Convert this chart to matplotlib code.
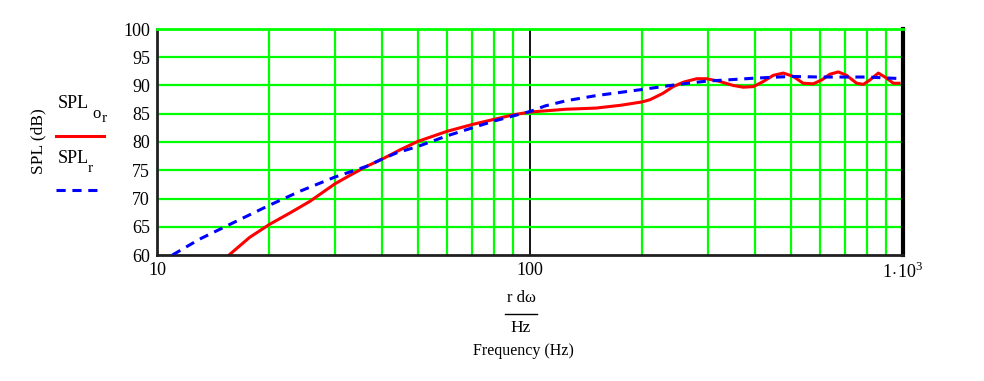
#!/usr/bin/env python

import numpy as np
import matplotlib.pyplot as plt
from matplotlib.lines import Line2D

# measured response (red, solid)
freq_meas = [15.6, 17.7, 20, 22.8, 25.7, 30, 32.9, 36.5, 40.5, 44.8, 50, 60, 70,
             80, 90, 100, 125, 150, 175, 200, 210, 227, 242, 258, 280, 298, 323,
             351, 373, 397, 422, 449, 478, 508, 540, 575, 606, 637, 671, 706,
             751, 783, 816, 859, 904, 942, 976]
spl_meas = [60.0, 63.1, 65.4, 67.5, 69.5, 72.6, 74.1, 75.7, 77.1, 78.6, 80.1, 81.9,
            83.1, 84.0, 84.8, 85.3, 85.8, 86.0, 86.5, 87.1, 87.5, 88.6, 89.8,
            90.6, 91.2, 91.2, 90.7, 90.0, 89.7, 89.8, 90.7, 91.8, 92.2, 91.6,
            90.4, 90.3, 91.0, 92.0, 92.4, 91.8, 90.4, 90.2, 91.0, 92.2, 91.3,
            90.4, 90.4]

# model response (blue, dashed)
freq_model = [11, 13, 16, 20, 24.2, 30, 36.5, 40.5, 44, 50, 60, 70, 80, 90, 100,
              110, 125, 150, 200, 250, 300, 340, 400, 500, 600, 700, 800, 1000]
spl_model = [60.0, 62.8, 65.7, 68.8, 71.3, 73.8, 75.7, 77.1, 78.1, 79.2, 81.1,
             82.5, 83.7, 84.6, 85.4, 86.4, 87.3, 88.2, 89.3, 90.2, 90.8, 91.0,
             91.3, 91.6, 91.5, 91.5, 91.5, 91.2]

y_ticks = [60, 65, 70, 75, 80, 85, 90, 95, 100]

GREEN = '#00ff00'
SERIF = ['Liberation Serif', 'DejaVu Serif']
FS = 13


def px(x, y):
    # figure pixel coords -> figure fraction
    return x / 984, 1 - y / 381


def main():
    plt.rcParams['font.family'] = SERIF
    plt.rcParams['mathtext.fontset'] = 'custom'
    plt.rcParams['mathtext.rm'] = 'Liberation Serif'

    fig = plt.figure(figsize=(9.84, 3.81), dpi=100)
    ax = fig.add_axes([157 / 984, 1 - 255 / 381, 746 / 984, 226 / 381])

    ax.set_xscale('log')
    ax.set_xlim(10, 1000)
    ax.set_ylim(60, 100)

    # grid: every 10..90 per decade, and every 5 dB
    for dec in (10, 100):
        for m in range(1, 10):
            f = dec * m
            if f in (10, 1000):
                continue
            col = 'black' if f == 100 else GREEN
            ax.axvline(f, color=col, lw=1.6 if f != 100 else 1.3, zorder=1)
    for y in y_ticks[1:-1]:
        ax.axhline(y, color=GREEN, lw=1.6, zorder=1)

    ax.plot(freq_model, spl_model, color='#0000ff', lw=2.2,
            dashes=(3, 2.2), zorder=3)
    ax.plot(freq_meas, spl_meas, color='#ff0000', lw=2.2, zorder=2)

    for side in ('left', 'bottom'):
        ax.spines[side].set_color('#202020')
        ax.spines[side].set_linewidth(2)
    ax.spines['right'].set_color('black')
    ax.spines['right'].set_linewidth(3)
    ax.spines['top'].set_color(GREEN)
    ax.spines['top'].set_linewidth(2)

    ax.set_yticks(y_ticks)
    ax.set_yticklabels([str(v) for v in y_ticks])
    ax.set_xticks([10, 100, 1000])
    ax.set_xticklabels(['10', '100', r'$1\!\cdot\!10^{3}$'])
    ax.xaxis.set_minor_locator(plt.NullLocator())
    ax.tick_params(axis='both', length=0, labelsize=FS, pad=5)
    ax.tick_params(axis='x', pad=5)

    # y label and legend entries
    fig.text(*px(38, 141), 'SPL (dB)', rotation=90,
             ha='center', va='center', fontsize=FS - 0.5)
    fig.text(*px(58, 103), 'SPL', ha='left', va='center', fontsize=FS)
    fig.text(*px(92, 114), 'o', ha='left', va='center', fontsize=FS - 1)
    fig.text(*px(102, 119), 'r', ha='left', va='center', fontsize=FS - 2)
    fig.text(*px(58, 158), 'SPL', ha='left', va='center', fontsize=FS)
    fig.text(*px(88, 169), 'r', ha='left', va='center', fontsize=FS - 2)
    x0, y0 = px(56, 136)
    x1, _ = px(104, 136)
    fig.add_artist(Line2D([x0, x1], [y0, y0], color='#ff0000', lw=2.2))
    x0, y0 = px(56, 190)
    x1, _ = px(101, 190)
    fig.add_artist(Line2D([x0, x1], [y0, y0], color='#0000ff', lw=2.2,
                          dashes=(3, 2.2)))

    # x label as Mathcad-style fraction
    fig.text(*px(521, 298), 'r d\u03c9', ha='center', va='center',
             fontsize=FS - 1)
    x0, y0 = px(505, 314)
    x1, _ = px(537, 314)
    fig.add_artist(Line2D([x0, x1], [y0, y0], color='black', lw=1))
    fig.text(*px(521, 328), 'Hz', ha='center', va='center', fontsize=FS - 0.5)
    fig.text(*px(523, 351), 'Frequency (Hz)', ha='center', va='center',
             fontsize=FS - 1.5)

    fig.savefig('out.png', dpi=100)


if __name__ == "__main__":
    main()
